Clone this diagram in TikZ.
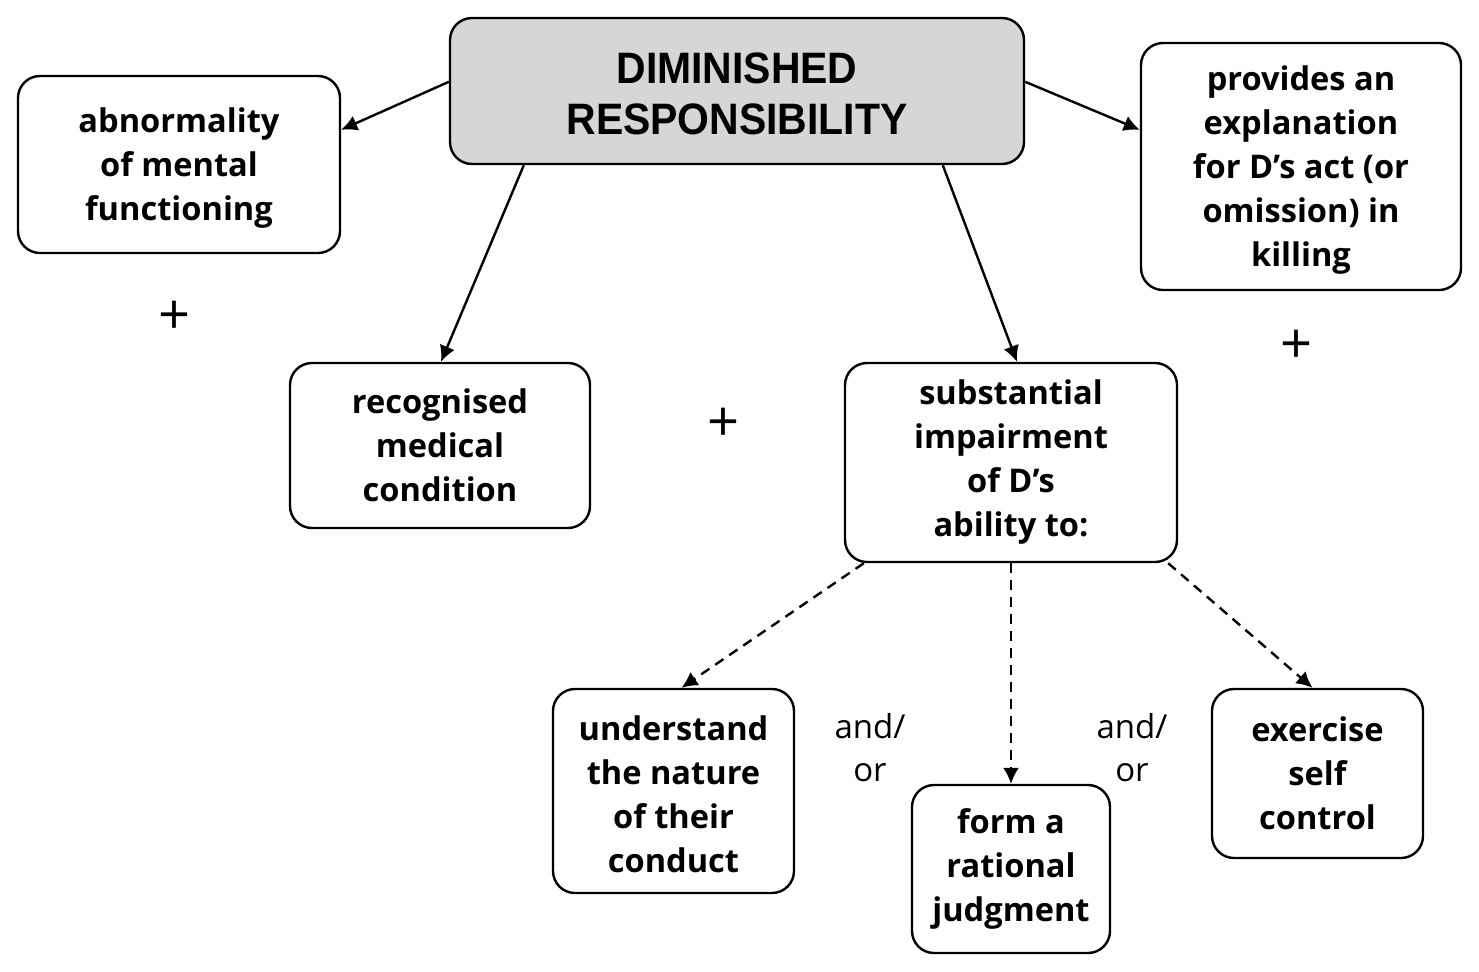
\documentclass[tikz,border=0pt]{standalone}
\usepackage{fontspec}
\setmainfont{Open Sans}
\newfontfamily\titlefont[FakeStretch=0.93]{Liberation Sans}
\usetikzlibrary{arrows.meta,calc}
\begin{document}
\begin{tikzpicture}[x=0.5pt,y=-0.5pt,
  box/.style={draw=black, line width=1.2pt, rounded corners=11pt, align=center,
    inner sep=0pt, font=\fontsize{16.3}{22}\selectfont\bfseries},
  titlebox/.style={box, fill=black!16, font=\titlefont\fontsize{22}{25.5}\selectfont\bfseries},
  conn/.style={line width=1.2pt, -{Latex[length=8pt,width=8pt]}},
  dconn/.style={conn, dash pattern=on 5pt off 3.5pt},
  plus/.style={font=\fontsize{28}{28}\selectfont, inner sep=0pt},
  andor/.style={align=center, font=\fontsize{16.5}{21.5}\selectfont, inner sep=0pt}]
\useasboundingbox (0,0) rectangle (1479,971);
\node[titlebox, minimum width=287pt, minimum height=73pt] (top) at (737,91) {\rule{0pt}{18pt}DIMINISHED\\RESPONSIBILITY};
\node[box, minimum width=161pt, minimum height=88.5pt] (abn) at (179,164.5) {\rule{0pt}{16pt}abnormality\\of mental\\functioning};
\node[box, minimum width=160pt, minimum height=123.5pt] (prov) at (1301,166.5) {\rule{0pt}{16pt}provides an\\explanation\\for D’s act (or\\omission) in\\killing};
\node[box, minimum width=150pt, minimum height=82.5pt] (rec) at (440,445.5) {recognised\\medical\\condition};
\node[box, minimum width=166pt, minimum height=99.5pt] (sub) at (1011,462.5) {substantial\\impairment\\of D’s\\ability to:};
\node[box, minimum width=120.5pt, minimum height=102pt] (und) at (673.5,791) {\rule{0pt}{16pt}understand\\the nature\\of their\\conduct};
\node[box, minimum width=99pt, minimum height=84pt] (form) at (1011,869) {form a\\rational\\judgment};
\node[box, minimum width=105.5pt, minimum height=84.5pt] (exer) at (1317.5,773.5) {exercise\\self\\control};
\node[plus] (p1) at (175,318) {+};
\node[plus] (p2) at (724,425) {+};
\node[plus] (p3) at (1296,347) {+};
\node[andor] (ao1) at (870,748) {and/\\or};
\node[andor] (ao2) at (1132,748) {and/\\or};
\draw[conn] ($(top.north west)+(0,65)$) -- ($(abn.north east)+(0,55)$);
\draw[conn] ($(top.north east)+(0,65)$) -- ($(prov.north west)+(0,88)$);
\draw[conn] ($(top.south west)+(75,0)$) -- ($(rec.north)+(1,0)$);
\draw[conn] ($(top.south west)+(494,0)$) -- ($(sub.north)+(6,0)$);
\draw[dconn] ($(sub.south west)+(20,0)$) -- ($(und.north)+(8,0)$);
\draw[dconn] (sub.south) -- (form.north);
\draw[dconn] ($(sub.south east)+(-10,0)$) -- ($(exer.north)+(-5,0)$);
\end{tikzpicture}
\end{document}
